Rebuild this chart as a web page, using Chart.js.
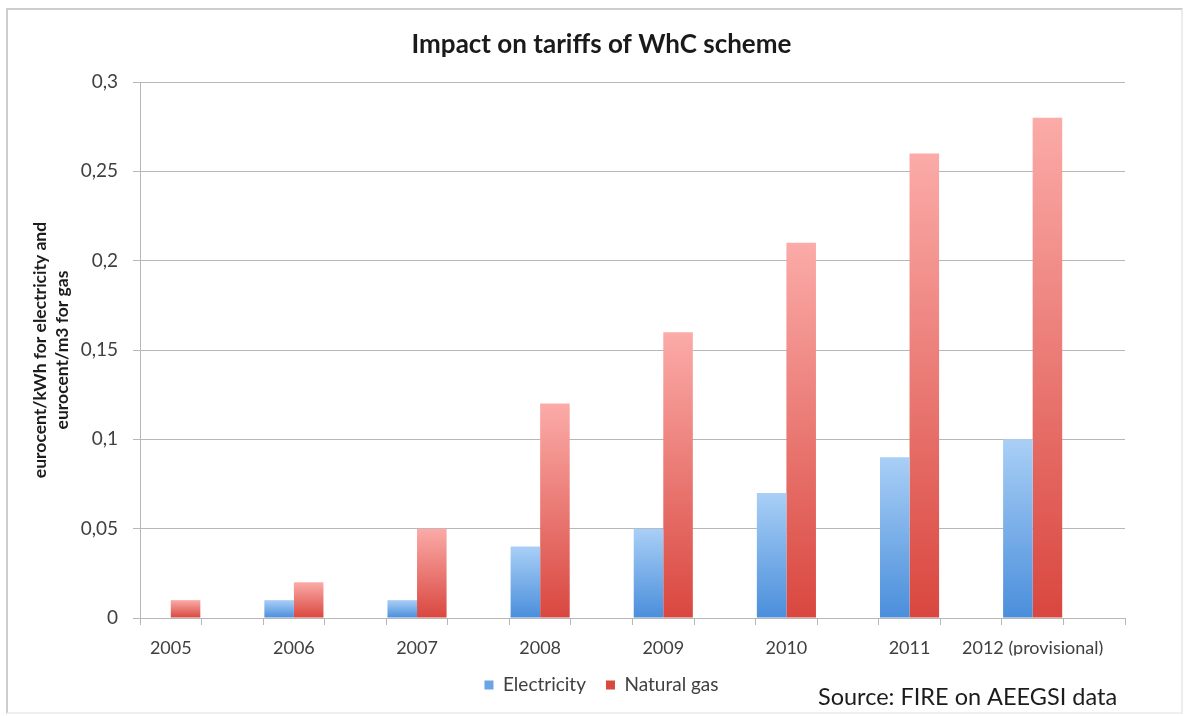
<!DOCTYPE html>
<html>
<head>
<meta charset="utf-8">
<title>Impact on tariffs of WhC scheme</title>
<script src="https://cdn.jsdelivr.net/npm/chart.js@4/dist/chart.umd.min.js"></script>
<style>
  html, body { margin: 0; padding: 0; background: #ffffff; }
  #wrap { position: relative; width: 1185px; height: 716px; overflow: hidden; }
  #frame {
    position: absolute; left: 6px; top: 8px; width: 1177px; height: 706px;
    box-sizing: border-box; border: 2px solid #cdcdcd; border-right-color: #ececec; border-bottom-color: #efefef;
  }
  #chart { position: absolute; left: 0; top: 0; }
</style>
</head>
<body>
<div id="wrap">
  <div id="frame"></div>
  <canvas id="chart" width="1185" height="716"></canvas>
</div>
<script>
// Tariff impact of the White Certificates scheme, by year
const years = ['2005', '2006', '2007', '2008', '2009', '2010', '2011', '2012 (provisional)'];
const electricity = [0, 0.01, 0.01, 0.04, 0.05, 0.07, 0.09, 0.10];   // eurocent/kWh
const naturalGas  = [0.01, 0.02, 0.05, 0.12, 0.16, 0.21, 0.26, 0.28]; // eurocent/m3
const yTickValues = [0, 0.05, 0.1, 0.15, 0.2, 0.25, 0.3];
const yTickLabels = ['0', '0,05', '0,1', '0,15', '0,2', '0,25', '0,3'];
const seriesNames = ['Electricity', 'Natural gas'];
const chartTitle = 'Impact on tariffs of WhC scheme';
const yTitleLines = ['eurocent/kWh for electricity and', 'eurocent/m3 for gas'];
const sourceNote = 'Source: FIRE on AEEGSI data';

// Each year is followed by an empty slot on the category axis
const slotLabels = [];
const slotElectricity = [];
const slotGas = [];
years.forEach((y, i) => {
  slotLabels.push(y, '');
  slotElectricity.push(electricity[i], null);
  slotGas.push(naturalGas[i], null);
});

const FONT = 'Lato';
const AXIS_GREY = '#b7b7b7';

// vertical gradient spanning each individual bar
function barFill(top, bottom, flat) {
  return (ctx) => {
    if (ctx.type !== 'data' || ctx.raw == null) return flat;
    const ys = ctx.chart.scales.y;
    if (!ys) return flat;
    const y0 = ys.getPixelForValue(0);
    const y1 = ys.getPixelForValue(ctx.raw);
    if (!isFinite(y0) || !isFinite(y1) || y0 === y1) return flat;
    const g = ctx.chart.ctx.createLinearGradient(0, y1, 0, y0);
    g.addColorStop(0, top);
    g.addColorStop(1, bottom);
    return g;
  };
}

const extraText = {
  id: 'extraText',
  afterDraw(chart) {
    const c = chart.ctx;
    const area = chart.chartArea;
    c.save();
    // rotated y-axis title, two lines
    c.fillStyle = '#1c1c1c';
    c.font = 'bold 17.5px ' + FONT;
    c.textAlign = 'center';
    c.textBaseline = 'middle';
    const cy = (area.top + area.bottom) / 2;
    const lineXs = [40, 62];
    yTitleLines.forEach((t, i) => {
      c.save();
      c.translate(lineXs[i], cy);
      c.rotate(-Math.PI / 2);
      c.fillText(t, 0, 0);
      c.restore();
    });
    // source note
    c.font = '23.5px ' + FONT;
    c.textAlign = 'left';
    c.fillStyle = '#1c1c1c';
    c.fillText(sourceNote, 818, 697);
    c.restore();
  }
};

new Chart(document.getElementById('chart'), {
  type: 'bar',
  data: {
    labels: slotLabels,
    datasets: [
      {
        label: seriesNames[0],
        data: slotElectricity,
        backgroundColor: barFill('#a9cff6', '#4a8edb', '#6aa6e6'),
        borderWidth: 0,
        categoryPercentage: 0.96,
        barPercentage: 1.0
      },
      {
        label: seriesNames[1],
        data: slotGas,
        backgroundColor: barFill('#fbaba8', '#d9473f', '#e8625b'),
        borderWidth: 0,
        categoryPercentage: 0.96,
        barPercentage: 1.0
      }
    ]
  },
  options: {
    responsive: false,
    animation: false,
    devicePixelRatio: 1,
    layout: { padding: { left: 78, right: 60, top: 0, bottom: 11.5 } },
    plugins: {
      title: {
        display: true,
        text: chartTitle,
        color: '#1a1a1a',
        font: { family: FONT, size: 26, weight: 'bold', lineHeight: 1.2 },
        padding: { top: 29.4, bottom: 21.4 }
      },
      legend: {
        display: true,
        position: 'bottom',
        labels: {
          color: '#404040',
          font: { family: FONT, size: 19 },
          boxWidth: 9,
          boxHeight: 9,
          padding: 20
        }
      },
      tooltip: { enabled: false }
    },
    scales: {
      x: {
        type: 'category',
        offset: true,
        afterFit(scale) { scale.height = 37.5; },
        grid: {
          display: true,
          drawOnChartArea: false,
          drawTicks: true,
          tickLength: 7,
          color: AXIS_GREY,
          offset: true
        },
        border: { display: true, color: AXIS_GREY, width: 1 },
        ticks: {
          autoSkip: false,
          maxRotation: 0,
          minRotation: 0,
          padding: 12,
          color: '#404040',
          font: { family: FONT, size: 18 }
        }
      },
      y: {
        min: 0,
        max: 0.3,
        afterFit(scale) { scale.width = 62; },
        afterBuildTicks(scale) { scale.ticks = yTickValues.map(v => ({ value: v })); },
        grid: { color: AXIS_GREY, tickLength: 7, drawTicks: true },
        border: { display: true, color: AXIS_GREY, width: 1 },
        ticks: {
          padding: 15,
          color: '#404040',
          font: { family: FONT, size: 19 },
          callback(value) {
            const i = yTickValues.findIndex(v => Math.abs(v - value) < 1e-9);
            return i >= 0 ? yTickLabels[i] : '';
          }
        }
      }
    }
  },
  plugins: [extraText]
});
</script>
</body>
</html>
